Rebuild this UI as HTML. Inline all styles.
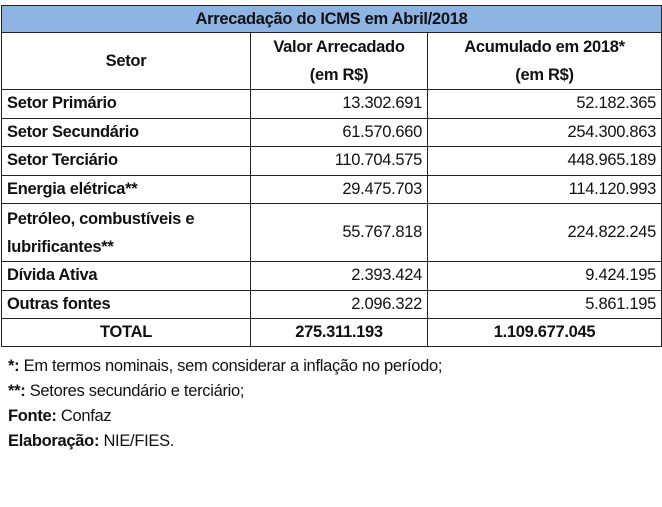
<!DOCTYPE html>
<html><head><meta charset="utf-8"><style>
body{margin:0;width:662px;height:507px;background:#fff;font-family:"Liberation Sans",sans-serif;color:#111;overflow:hidden}
table{position:absolute;left:1px;top:5px;width:660px;border-collapse:collapse;table-layout:fixed}
td{border:1.5px solid #222;font-size:16.5px;padding:0 5px;letter-spacing:-0.3px;overflow:hidden;white-space:nowrap}
.t{background:#8DB4E2;text-align:center;font-weight:bold;height:26px}
.h{text-align:center;font-weight:bold;line-height:28px}
.l{font-weight:bold;height:27.5px}
.n{text-align:right}
.tot td{font-weight:bold;text-align:center;height:27px}
.foot{position:absolute;left:8px;top:354px;font-size:16.5px;line-height:25px;letter-spacing:-0.3px}
</style></head><body>
<table>
<colgroup><col style="width:249px"><col style="width:177px"><col style="width:234px"></colgroup>
<tr><td class="t" colspan="3">Arrecadação do ICMS em Abril/2018</td></tr>
<tr><td class="h">Setor</td><td class="h">Valor Arrecadado<br>(em R$)</td><td class="h">Acumulado em 2018*<br>(em R$)</td></tr>
<tr><td class="l">Setor Primário</td><td class="n">13.302.691</td><td class="n">52.182.365</td></tr>
<tr><td class="l">Setor Secundário</td><td class="n">61.570.660</td><td class="n">254.300.863</td></tr>
<tr><td class="l">Setor Terciário</td><td class="n">110.704.575</td><td class="n">448.965.189</td></tr>
<tr><td class="l">Energia elétrica**</td><td class="n">29.475.703</td><td class="n">114.120.993</td></tr>
<tr><td class="l" style="height:57px;line-height:28px">Petróleo, combustíveis e<br>lubrificantes**</td><td class="n">55.767.818</td><td class="n">224.822.245</td></tr>
<tr><td class="l">Dívida Ativa</td><td class="n">2.393.424</td><td class="n">9.424.195</td></tr>
<tr><td class="l">Outras fontes</td><td class="n">2.096.322</td><td class="n">5.861.195</td></tr>
<tr class="tot"><td>TOTAL</td><td>275.311.193</td><td>1.109.677.045</td></tr>
</table>
<div class="foot">
<div><b>*:</b> Em termos nominais, sem considerar a inflação no período;</div>
<div><b>**:</b> Setores secundário e terciário;</div>
<div><b>Fonte:</b> Confaz</div>
<div><b>Elaboração:</b> NIE/FIES.</div>
</div>
</body></html>
